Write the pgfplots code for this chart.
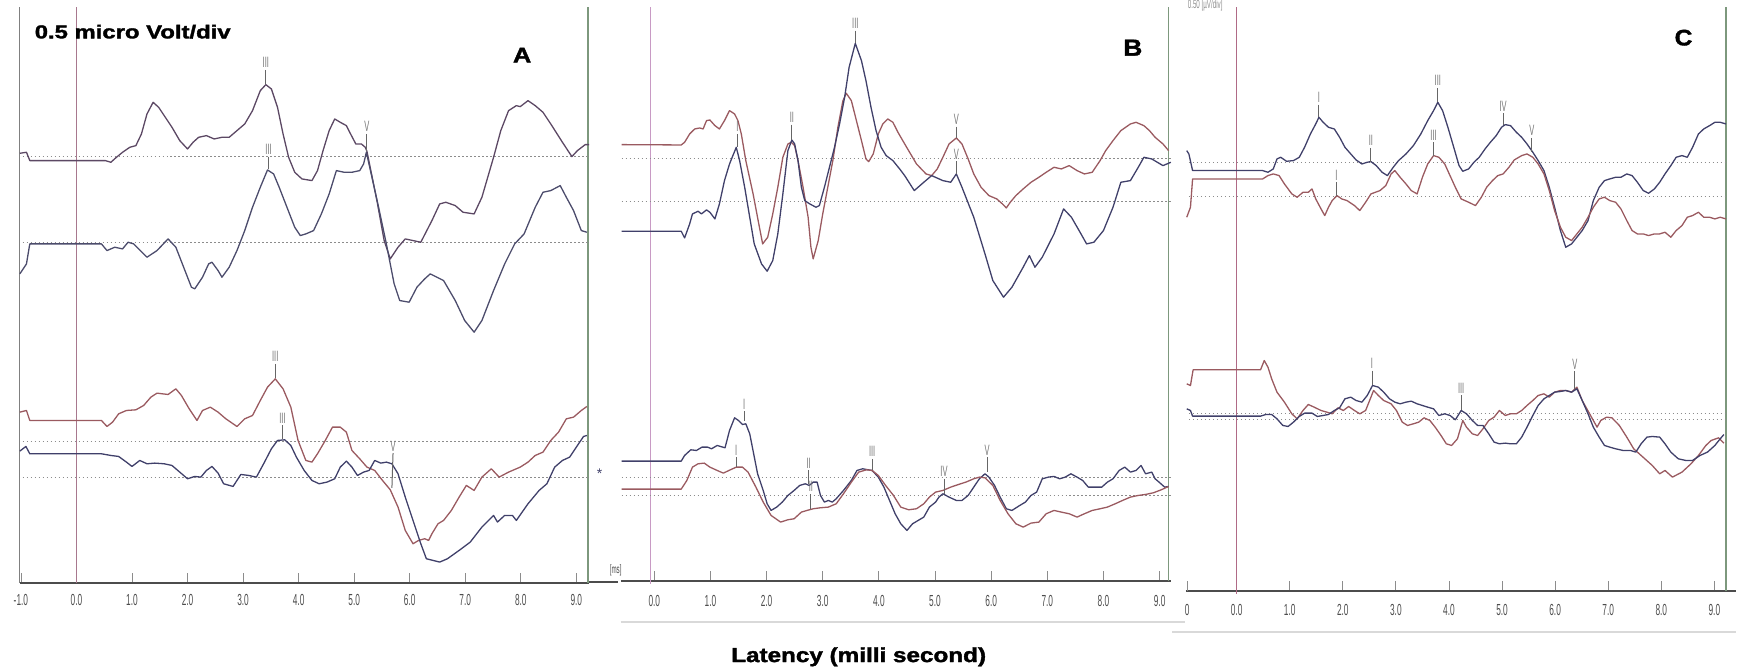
\documentclass[border=0pt]{standalone}
\usepackage{graphicx}
\usepackage{pgfplots}
\pgfplotsset{compat=1.18}
\usepackage{fontspec}
\setmainfont{Liberation Sans}
\newfontfamily\heavy[BoldFeatures={FakeBold=1.6}]{Liberation Sans}
\newfontfamily\tickfont[FakeStretch=0.52]{Liberation Sans}
\newfontfamily\pkfont[FakeStretch=0.5]{Liberation Sans}

\definecolor{trRed}{HTML}{9A5A60}
\definecolor{trBlue}{HTML}{40406A}
\definecolor{trPurA}{HTML}{5C4864}
\definecolor{trPurB}{HTML}{4C4C6C}
\definecolor{zeroA}{HTML}{A8788E}
\definecolor{zeroB}{HTML}{C89AC4}
\definecolor{zeroC}{HTML}{B06A86}
\definecolor{endG}{HTML}{7D987D}
\definecolor{baseG}{HTML}{8C8C8C}

\tikzset{
  base/.style={baseG, dash pattern=on 0.7pt off 1.3pt, line width=0.5pt},
  pk/.style={black!60, line width=0.5pt},
  pklab/.style={font={\pkfont\fontsize{7.5pt}{8pt}\selectfont}, text=black!55, inner sep=0.8pt, anchor=south},
}
\pgfplotsset{
  abr/.style={scale only axis, axis x line*=bottom, axis y line=none,
    axis line style={-, draw=black!70, line width=0.9pt},
    tick align=inside, major tick length=5pt,
    xtick style={draw=black!45, line width=0.4pt},
    xticklabel style={font={\tickfont\fontsize{8pt}{9pt}\selectfont}, text=black!70, anchor=center},
    clip=false,
    every axis plot/.append style={line width=0.65pt, line join=round},
  },
}

\begin{document}
\begin{tikzpicture}
\begin{scope}[x=0.5pt,y=-0.5pt]
\path[use as bounding box] (0,0) rectangle (1737,671);
\end{scope}

% ---------------- Panel A ----------------
\begin{axis}[abr, at={(152.3pt,-147.25pt)}, anchor=center,
  width=284.8pt, height=287.83pt,
  xmin=-1.02, xmax=9.23, ymin=-1747, ymax=-20,
  xtick={-1,0,1,2,3,4,5,6,7,8,9},
  xticklabels={-1.0,0.0,1.0,2.0,3.0,4.0,5.0,6.0,7.0,8.0,9.0},
  xticklabel style={yshift=-8.85pt}]
\addplot[black!50, line width=0.5pt] coordinates {(-1.02,-20) (-1.02,-1747)};
\addplot[zeroA, line width=0.5pt] coordinates {(0,-20) (0,-1747)};
\addplot[endG, line width=0.6pt] coordinates {(9.21,-20) (9.21,-1747)};
\addplot[base] coordinates {(-0.97,-468) (9.23,-468)};
\addplot[base] coordinates {(-0.97,-727) (9.23,-727)};
\addplot[base] coordinates {(-0.97,-1323) (9.23,-1323)};
\addplot[base] coordinates {(-0.97,-1432) (9.23,-1432)};
% upper pair
\addplot[trPurA] coordinates {(-1.02,-458) (-0.90,-455) (-0.84,-480) (0.52,-480) (0.62,-485) (0.72,-470) (0.83,-455) (0.96,-440) (1.07,-435) (1.17,-400) (1.27,-340) (1.38,-305) (1.48,-320) (1.58,-345) (1.72,-380) (1.86,-420) (2.00,-445) (2.10,-425) (2.20,-410) (2.34,-405) (2.48,-415) (2.62,-410) (2.75,-410) (2.89,-390) (3.03,-370) (3.17,-330) (3.31,-270) (3.41,-252) (3.51,-265) (3.62,-320) (3.72,-400) (3.82,-470) (3.93,-515) (4.06,-535) (4.24,-540) (4.34,-510) (4.44,-450) (4.55,-390) (4.65,-355) (4.75,-365) (4.86,-375) (4.92,-395) (5.03,-430) (5.13,-430) (5.20,-440) (5.23,-452) (5.41,-600) (5.54,-720) (5.65,-775) (5.79,-740) (5.92,-715) (6.06,-720) (6.20,-725) (6.40,-660) (6.54,-610) (6.65,-605) (6.82,-615) (6.96,-635) (7.16,-640) (7.30,-590) (7.51,-470) (7.64,-390) (7.78,-330) (7.92,-315) (7.99,-318) (8.13,-300) (8.26,-315) (8.40,-335) (8.54,-370) (8.75,-425) (8.92,-468) (9.02,-450) (9.16,-432) (9.23,-432)};
\addplot[trPurB] coordinates {(-1.02,-820) (-0.90,-790) (-0.84,-730) (0.45,-730) (0.55,-750) (0.69,-740) (0.83,-745) (0.93,-725) (1.03,-730) (1.27,-770) (1.45,-750) (1.65,-715) (1.79,-740) (1.93,-800) (2.07,-860) (2.13,-865) (2.27,-830) (2.38,-790) (2.44,-785) (2.55,-810) (2.62,-830) (2.75,-800) (2.89,-750) (3.03,-690) (3.17,-620) (3.31,-560) (3.44,-508) (3.55,-520) (3.65,-560) (3.79,-620) (3.93,-680) (4.03,-705) (4.13,-700) (4.27,-690) (4.41,-640) (4.55,-580) (4.68,-510) (4.82,-515) (4.96,-515) (5.10,-510) (5.17,-490) (5.22,-455) (5.44,-620) (5.58,-730) (5.72,-850) (5.82,-900) (5.99,-905) (6.13,-860) (6.27,-835) (6.37,-820) (6.61,-840) (6.82,-900) (6.99,-960) (7.16,-995) (7.30,-960) (7.51,-870) (7.71,-790) (7.89,-730) (8.06,-700) (8.26,-620) (8.40,-575) (8.54,-570) (8.71,-555) (8.82,-590) (8.95,-630) (9.09,-690) (9.19,-695)};
% lower pair
\addplot[trRed] coordinates {(-1.02,-1235) (-0.90,-1230) (-0.84,-1260) (0.45,-1260) (0.55,-1278) (0.65,-1265) (0.76,-1240) (0.90,-1230) (1.07,-1228) (1.21,-1215) (1.34,-1190) (1.45,-1178) (1.65,-1182) (1.79,-1165) (1.89,-1185) (2.03,-1225) (2.17,-1260) (2.27,-1230) (2.41,-1220) (2.55,-1235) (2.69,-1255) (2.89,-1278) (3.03,-1255) (3.17,-1245) (3.31,-1200) (3.44,-1160) (3.58,-1135) (3.72,-1165) (3.86,-1220) (3.99,-1320) (4.13,-1380) (4.24,-1385) (4.34,-1360) (4.48,-1320) (4.61,-1280) (4.75,-1280) (4.86,-1295) (4.96,-1350) (5.10,-1375) (5.23,-1400) (5.37,-1410) (5.51,-1440) (5.65,-1468) (5.79,-1520) (5.92,-1590) (6.06,-1630) (6.16,-1620) (6.27,-1615) (6.34,-1620) (6.40,-1600) (6.51,-1570) (6.61,-1560) (6.75,-1530) (6.89,-1490) (7.02,-1455) (7.16,-1470) (7.30,-1430) (7.47,-1405) (7.61,-1430) (7.78,-1415) (7.99,-1400) (8.13,-1385) (8.26,-1365) (8.40,-1355) (8.54,-1320) (8.68,-1295) (8.82,-1255) (8.95,-1250) (9.09,-1230) (9.19,-1218)};
\addplot[trBlue] coordinates {(-1.02,-1352) (-0.91,-1338) (-0.84,-1360) (0.45,-1360) (0.62,-1365) (0.76,-1368) (0.90,-1385) (1.00,-1398) (1.14,-1380) (1.27,-1390) (1.41,-1388) (1.58,-1390) (1.72,-1395) (1.86,-1415) (2.00,-1435) (2.13,-1428) (2.24,-1430) (2.34,-1410) (2.44,-1398) (2.55,-1418) (2.65,-1450) (2.82,-1458) (2.96,-1422) (3.10,-1425) (3.24,-1430) (3.37,-1390) (3.51,-1345) (3.62,-1320) (3.75,-1318) (3.86,-1335) (3.96,-1370) (4.10,-1410) (4.24,-1440) (4.37,-1450) (4.51,-1445) (4.65,-1435) (4.75,-1400) (4.86,-1382) (4.96,-1400) (5.06,-1425) (5.17,-1415) (5.27,-1410) (5.37,-1380) (5.48,-1388) (5.58,-1385) (5.68,-1390) (5.79,-1420) (5.92,-1490) (6.06,-1560) (6.20,-1630) (6.30,-1675) (6.54,-1685) (6.68,-1675) (6.89,-1650) (7.09,-1625) (7.30,-1580) (7.51,-1545) (7.58,-1565) (7.71,-1545) (7.85,-1545) (7.92,-1560) (8.13,-1510) (8.33,-1470) (8.47,-1450) (8.61,-1400) (8.75,-1380) (8.88,-1370) (9.02,-1335) (9.13,-1308) (9.19,-1305)};
% wave markers
\addplot[pk] coordinates {(3.41,-208) (3.41,-250)} node[pklab,pos=0]{III};
\addplot[pk] coordinates {(3.46,-468) (3.46,-505)} node[pklab,pos=0]{III};
\addplot[pk] coordinates {(5.23,-400) (5.23,-450)} node[pklab,pos=0]{V};
\addplot[pk] coordinates {(3.58,-1090) (3.58,-1133)} node[pklab,pos=0]{III};
\addplot[pk] coordinates {(3.71,-1275) (3.71,-1315)} node[pklab,pos=0]{III};
\addplot[pk] coordinates {(5.70,-1358) (5.68,-1462)} node[pklab,pos=0]{V};
\end{axis}

% ---------------- Panel B ----------------
\begin{axis}[abr, at={(448.125pt,-146.835pt)}, anchor=center,
  width=274.95pt, height=287pt,
  xmin=-0.593, xmax=9.196, ymin=-1742, ymax=-20,
  xtick={0,1,2,3,4,5,6,7,8,9},
  xticklabels={0.0,1.0,2.0,3.0,4.0,5.0,6.0,7.0,8.0,9.0},
  xticklabel style={yshift=-10pt}]
\addplot[zeroB, line width=0.6pt] coordinates {(-0.068,-20) (-0.068,-1750)};
\addplot[endG, line width=0.6pt] coordinates {(9.16,-20) (9.16,-1742)};
\addplot[base] coordinates {(-0.58,-473) (9.23,-473)};
\addplot[base] coordinates {(-0.58,-602) (9.23,-602)};
\addplot[base] coordinates {(-0.58,-1430) (9.23,-1430)};
\addplot[base] coordinates {(-0.58,-1485) (9.23,-1485)};
% upper pair
\addplot[trRed] coordinates {(-0.58,-432) (0.48,-433) (0.54,-425) (0.63,-400) (0.72,-385) (0.81,-382) (0.87,-385) (0.93,-360) (0.99,-358) (1.08,-375) (1.16,-385) (1.25,-360) (1.34,-330) (1.43,-340) (1.49,-360) (1.55,-400) (1.63,-480) (1.76,-580) (1.85,-660) (1.93,-730) (2.02,-710) (2.11,-640) (2.20,-560) (2.29,-470) (2.38,-430) (2.44,-425) (2.50,-435) (2.56,-480) (2.65,-560) (2.74,-650) (2.79,-740) (2.83,-775) (2.92,-720) (3.00,-640) (3.09,-560) (3.18,-480) (3.27,-380) (3.36,-300) (3.42,-278) (3.51,-300) (3.60,-360) (3.69,-420) (3.77,-475) (3.82,-483) (3.90,-460) (3.99,-400) (4.07,-370) (4.16,-355) (4.25,-365) (4.34,-395) (4.46,-430) (4.67,-490) (4.84,-520) (4.94,-525) (5.04,-505) (5.14,-470) (5.25,-430) (5.38,-412) (5.48,-430) (5.59,-475) (5.69,-520) (5.82,-560) (5.96,-585) (6.10,-595) (6.20,-610) (6.27,-622) (6.34,-605) (6.44,-585) (6.57,-565) (6.71,-545) (6.85,-530) (6.98,-515) (7.12,-500) (7.25,-505) (7.39,-495) (7.53,-510) (7.66,-520) (7.80,-515) (7.94,-480) (8.04,-450) (8.17,-420) (8.31,-390) (8.48,-370) (8.58,-365) (8.72,-375) (8.82,-390) (8.92,-410) (9.06,-430) (9.16,-450)};
\addplot[trBlue] coordinates {(-0.58,-692) (0.48,-692) (0.54,-712) (0.63,-670) (0.68,-640) (0.78,-632) (0.84,-640) (0.93,-628) (0.99,-635) (1.08,-655) (1.16,-610) (1.25,-540) (1.34,-490) (1.46,-440) (1.52,-480) (1.61,-560) (1.70,-650) (1.78,-730) (1.91,-790) (2.01,-812) (2.11,-780) (2.20,-700) (2.29,-580) (2.38,-450) (2.45,-418) (2.50,-430) (2.56,-480) (2.62,-560) (2.68,-600) (2.77,-610) (2.88,-620) (2.94,-615) (3.03,-560) (3.12,-500) (3.21,-440) (3.30,-370) (3.39,-290) (3.47,-200) (3.58,-128) (3.69,-180) (3.77,-240) (3.86,-320) (3.95,-390) (4.04,-440) (4.13,-465) (4.25,-480) (4.37,-505) (4.46,-525) (4.63,-570) (4.80,-545) (4.94,-525) (5.14,-540) (5.28,-545) (5.38,-520) (5.48,-560) (5.69,-650) (5.89,-760) (6.03,-840) (6.22,-890) (6.37,-860) (6.57,-800) (6.68,-765) (6.78,-800) (6.91,-770) (7.12,-700) (7.29,-625) (7.43,-650) (7.60,-700) (7.70,-730) (7.83,-725) (8.00,-690) (8.17,-620) (8.31,-545) (8.48,-540) (8.62,-500) (8.72,-470) (8.86,-475) (8.96,-485) (9.06,-495) (9.20,-485)};
% lower pair
\addplot[trBlue] coordinates {(-0.58,-1382) (0.48,-1382) (0.54,-1365) (0.65,-1348) (0.75,-1350) (0.85,-1340) (0.95,-1340) (1.02,-1345) (1.12,-1335) (1.26,-1342) (1.34,-1290) (1.43,-1252) (1.50,-1260) (1.57,-1272) (1.63,-1270) (1.70,-1300) (1.77,-1360) (1.84,-1420) (1.94,-1470) (2.01,-1510) (2.08,-1530) (2.18,-1520) (2.28,-1505) (2.38,-1485) (2.49,-1470) (2.59,-1455) (2.69,-1450) (2.76,-1455) (2.83,-1445) (2.90,-1445) (2.96,-1485) (3.03,-1505) (3.10,-1500) (3.17,-1505) (3.24,-1495) (3.37,-1470) (3.51,-1440) (3.61,-1410) (3.71,-1405) (3.81,-1408) (3.88,-1410) (3.99,-1430) (4.09,-1460) (4.19,-1500) (4.29,-1540) (4.39,-1570) (4.50,-1590) (4.60,-1570) (4.70,-1560) (4.80,-1550) (4.90,-1520) (5.01,-1505) (5.07,-1490) (5.14,-1480) (5.25,-1490) (5.38,-1500) (5.48,-1500) (5.59,-1485) (5.69,-1460) (5.79,-1435) (5.89,-1420) (5.96,-1430) (6.06,-1455) (6.16,-1490) (6.27,-1525) (6.37,-1530) (6.51,-1515) (6.61,-1505) (6.71,-1485) (6.81,-1475) (6.91,-1435) (7.02,-1430) (7.12,-1428) (7.22,-1435) (7.32,-1430) (7.42,-1420) (7.53,-1430) (7.63,-1440) (7.73,-1460) (7.87,-1460) (7.97,-1460) (8.07,-1445) (8.17,-1435) (8.28,-1410) (8.38,-1400) (8.48,-1415) (8.58,-1410) (8.67,-1395) (8.75,-1420) (8.86,-1415) (8.92,-1435) (8.99,-1445) (9.09,-1460) (9.16,-1458)};
\addplot[trRed] coordinates {(-0.58,-1466) (0.48,-1466) (0.58,-1440) (0.68,-1400) (0.78,-1390) (0.89,-1388) (0.99,-1400) (1.12,-1410) (1.23,-1418) (1.33,-1410) (1.46,-1400) (1.57,-1400) (1.67,-1415) (1.81,-1460) (1.94,-1505) (2.08,-1545) (2.25,-1565) (2.38,-1558) (2.49,-1555) (2.62,-1535) (2.72,-1530) (2.83,-1525) (2.96,-1522) (3.10,-1520) (3.24,-1510) (3.37,-1480) (3.51,-1445) (3.64,-1415) (3.78,-1408) (3.88,-1410) (3.99,-1425) (4.12,-1455) (4.26,-1485) (4.39,-1520) (4.53,-1528) (4.67,-1525) (4.80,-1510) (4.90,-1490) (5.01,-1475) (5.14,-1470) (5.28,-1460) (5.42,-1452) (5.55,-1445) (5.69,-1435) (5.79,-1430) (5.89,-1432) (6.03,-1455) (6.16,-1500) (6.30,-1540) (6.44,-1570) (6.57,-1580) (6.71,-1568) (6.85,-1565) (6.98,-1540) (7.12,-1530) (7.25,-1535) (7.39,-1540) (7.53,-1550) (7.66,-1540) (7.80,-1530) (7.94,-1525) (8.07,-1520) (8.21,-1510) (8.34,-1500) (8.48,-1490) (8.62,-1485) (8.75,-1482) (8.89,-1477) (9.03,-1468) (9.16,-1458)};
% wave markers
\addplot[pk] coordinates {(1.48,-400) (1.48,-440)} node[pklab,pos=0]{I};
\addplot[pk] coordinates {(2.45,-372) (2.45,-418)} node[pklab,pos=0]{II};
\addplot[pk] coordinates {(3.58,-90) (3.58,-128)} node[pklab,pos=0]{III};
\addplot[pk] coordinates {(5.38,-378) (5.38,-412)} node[pklab,pos=0]{V};
\addplot[pk] coordinates {(5.38,-482) (5.38,-520)} node[pklab,pos=0]{V};
\addplot[pk] coordinates {(1.60,-1232) (1.60,-1262)} node[pklab,pos=0]{I};
\addplot[pk] coordinates {(1.46,-1370) (1.46,-1400)} node[pklab,pos=0]{I};
\addplot[pk] coordinates {(2.75,-1410) (2.75,-1450)} node[pklab,pos=0]{II};
\addplot[pk] coordinates {(2.79,-1480) (2.79,-1525)} node[pklab,pos=0]{II};
\addplot[pk] coordinates {(3.88,-1375) (3.88,-1410)} node[pklab,pos=0]{III};
\addplot[pk] coordinates {(5.16,-1435) (5.16,-1480)} node[pklab,pos=0]{IV};
\addplot[pk] coordinates {(5.93,-1370) (5.93,-1415)} node[pklab,pos=0]{V};
\end{axis}

% ---------------- Panel C ----------------
\begin{axis}[abr, at={(730.875pt,-149.415pt)}, anchor=center,
  width=275.25pt, height=292.17pt,
  xmin=-0.956, xmax=9.41, ymin=-1773, ymax=-20,
  xtick={0,1,2,3,4,5,6,7,8,9},
  xticklabels={0.0,1.0,2.0,3.0,4.0,5.0,6.0,7.0,8.0,9.0},
  extra x ticks={-0.93}, extra x tick labels={0},
  xticklabel style={yshift=-9.5pt}]
\addplot[zeroC, line width=0.6pt] coordinates {(0,-20) (0,-1780)};
\addplot[endG, line width=0.6pt] coordinates {(9.22,-20) (9.22,-1773)};
\addplot[base] coordinates {(-0.90,-487) (9.22,-487)};
\addplot[base] coordinates {(-0.90,-588) (9.22,-588)};
\addplot[base] coordinates {(-0.90,-1240) (9.22,-1240)};
\addplot[base] coordinates {(-0.90,-1258) (9.22,-1258)};
% upper pair
\addplot[trBlue] coordinates {(-0.94,-450) (-0.90,-460) (-0.83,-510) (0.49,-510) (0.59,-515) (0.69,-505) (0.76,-475) (0.83,-470) (0.94,-482) (1.07,-480) (1.18,-470) (1.28,-440) (1.39,-400) (1.49,-370) (1.55,-350) (1.63,-365) (1.73,-380) (1.84,-385) (1.94,-410) (2.04,-440) (2.15,-460) (2.25,-478) (2.36,-490) (2.46,-485) (2.53,-483) (2.63,-495) (2.74,-515) (2.84,-525) (2.95,-500) (3.05,-480) (3.19,-460) (3.33,-435) (3.47,-400) (3.60,-360) (3.71,-330) (3.79,-305) (3.88,-330) (3.98,-380) (4.09,-440) (4.19,-495) (4.26,-512) (4.37,-505) (4.47,-485) (4.57,-470) (4.68,-445) (4.78,-425) (4.89,-405) (4.99,-380) (5.06,-372) (5.16,-375) (5.27,-395) (5.37,-410) (5.47,-430) (5.58,-455) (5.68,-480) (5.79,-510) (5.89,-560) (5.99,-620) (6.10,-690) (6.20,-740) (6.31,-730) (6.41,-710) (6.51,-690) (6.62,-660) (6.72,-600) (6.83,-560) (6.93,-540) (7.03,-535) (7.14,-530) (7.24,-530) (7.35,-520) (7.45,-525) (7.55,-545) (7.66,-570) (7.76,-578) (7.87,-565) (7.97,-545) (8.07,-520) (8.18,-495) (8.28,-470) (8.39,-465) (8.49,-470) (8.59,-440) (8.70,-400) (8.80,-385) (8.91,-375) (9.01,-365) (9.11,-365) (9.22,-370)};
\addplot[trRed] coordinates {(-0.94,-650) (-0.87,-620) (-0.83,-535) (0.49,-535) (0.59,-525) (0.69,-520) (0.80,-525) (0.90,-550) (1.04,-580) (1.14,-590) (1.25,-575) (1.35,-575) (1.42,-565) (1.49,-595) (1.59,-625) (1.66,-645) (1.73,-620) (1.80,-600) (1.89,-585) (1.98,-595) (2.08,-600) (2.22,-615) (2.32,-630) (2.43,-605) (2.53,-580) (2.70,-570) (2.81,-555) (2.91,-520) (2.98,-510) (3.08,-530) (3.19,-550) (3.29,-570) (3.40,-580) (3.50,-530) (3.60,-490) (3.71,-465) (3.81,-470) (3.92,-490) (4.02,-525) (4.12,-560) (4.23,-595) (4.37,-605) (4.50,-615) (4.61,-590) (4.71,-560) (4.82,-540) (4.92,-525) (5.02,-520) (5.13,-500) (5.23,-478) (5.37,-465) (5.47,-460) (5.58,-470) (5.68,-490) (5.79,-520) (5.89,-570) (5.99,-630) (6.10,-680) (6.20,-710) (6.31,-720) (6.41,-700) (6.51,-680) (6.62,-650) (6.72,-620) (6.83,-595) (6.93,-590) (7.03,-600) (7.14,-605) (7.24,-625) (7.35,-660) (7.45,-690) (7.55,-700) (7.66,-700) (7.76,-705) (7.87,-700) (7.97,-700) (8.07,-695) (8.18,-710) (8.28,-690) (8.39,-675) (8.49,-650) (8.59,-645) (8.70,-635) (8.80,-650) (8.91,-650) (9.01,-655) (9.11,-650) (9.22,-655)};
% lower pair
\addplot[trRed] coordinates {(-0.94,-1150) (-0.87,-1155) (-0.82,-1108) (0.45,-1108) (0.52,-1080) (0.59,-1100) (0.66,-1135) (0.76,-1175) (0.90,-1205) (1.04,-1240) (1.14,-1255) (1.25,-1230) (1.35,-1212) (1.46,-1220) (1.59,-1230) (1.70,-1235) (1.80,-1240) (1.91,-1222) (2.01,-1230) (2.11,-1218) (2.22,-1230) (2.32,-1240) (2.43,-1230) (2.53,-1190) (2.58,-1170) (2.67,-1185) (2.77,-1200) (2.91,-1210) (3.01,-1230) (3.12,-1265) (3.22,-1275) (3.33,-1270) (3.43,-1265) (3.53,-1252) (3.64,-1260) (3.74,-1280) (3.85,-1305) (3.95,-1330) (4.05,-1335) (4.16,-1315) (4.26,-1260) (4.33,-1280) (4.44,-1300) (4.54,-1305) (4.64,-1285) (4.75,-1260) (4.85,-1250) (4.95,-1230) (5.06,-1245) (5.16,-1240) (5.27,-1240) (5.37,-1230) (5.47,-1215) (5.58,-1200) (5.68,-1185) (5.79,-1180) (5.89,-1190) (5.99,-1175) (6.10,-1170) (6.20,-1170) (6.31,-1175) (6.41,-1160) (6.51,-1200) (6.65,-1240) (6.79,-1280) (6.86,-1260) (6.97,-1250) (7.07,-1252) (7.21,-1275) (7.35,-1310) (7.48,-1345) (7.55,-1355) (7.69,-1375) (7.83,-1395) (7.97,-1420) (8.07,-1410) (8.21,-1430) (8.39,-1415) (8.56,-1390) (8.70,-1365) (8.84,-1335) (8.94,-1320) (9.08,-1312) (9.18,-1328)};
\addplot[trBlue] coordinates {(-0.94,-1225) (-0.87,-1230) (-0.83,-1247) (0.45,-1247) (0.55,-1242) (0.66,-1242) (0.76,-1255) (0.87,-1275) (0.97,-1278) (1.07,-1265) (1.18,-1248) (1.28,-1238) (1.42,-1238) (1.52,-1248) (1.63,-1245) (1.73,-1242) (1.84,-1230) (1.94,-1222) (2.04,-1195) (2.15,-1190) (2.25,-1200) (2.36,-1205) (2.46,-1185) (2.56,-1155) (2.67,-1160) (2.77,-1175) (2.88,-1195) (2.98,-1205) (3.08,-1210) (3.19,-1205) (3.29,-1202) (3.40,-1210) (3.50,-1215) (3.60,-1220) (3.71,-1225) (3.81,-1245) (3.92,-1240) (4.02,-1245) (4.12,-1258) (4.23,-1230) (4.33,-1240) (4.44,-1260) (4.54,-1275) (4.64,-1275) (4.75,-1300) (4.85,-1325) (4.95,-1330) (5.06,-1328) (5.16,-1330) (5.27,-1330) (5.37,-1310) (5.47,-1280) (5.58,-1245) (5.68,-1215) (5.79,-1195) (5.89,-1185) (5.99,-1175) (6.10,-1173) (6.20,-1170) (6.31,-1175) (6.41,-1165) (6.51,-1200) (6.62,-1240) (6.72,-1280) (6.83,-1310) (6.93,-1335) (7.03,-1340) (7.14,-1345) (7.28,-1350) (7.42,-1350) (7.52,-1355) (7.62,-1330) (7.73,-1310) (7.83,-1308) (7.97,-1310) (8.07,-1330) (8.18,-1355) (8.32,-1375) (8.46,-1380) (8.59,-1380) (8.73,-1365) (8.87,-1355) (9.01,-1335) (9.11,-1315) (9.18,-1302)};
% wave markers
\addplot[pk] coordinates {(1.55,-312) (1.55,-350)} node[pklab,pos=0]{I};
\addplot[pk] coordinates {(2.53,-442) (2.53,-483)} node[pklab,pos=0]{II};
\addplot[pk] coordinates {(3.79,-262) (3.79,-305)} node[pklab,pos=0]{III};
\addplot[pk] coordinates {(5.02,-338) (5.02,-372)} node[pklab,pos=0]{IV};
\addplot[pk] coordinates {(5.56,-412) (5.56,-455)} node[pklab,pos=0]{V};
\addplot[pk] coordinates {(3.71,-425) (3.71,-465)} node[pklab,pos=0]{III};
\addplot[pk] coordinates {(1.88,-545) (1.88,-585)} node[pklab,pos=0]{I};
\addplot[pk] coordinates {(2.55,-1110) (2.55,-1155)} node[pklab,pos=0]{I};
\addplot[pk] coordinates {(4.23,-1185) (4.23,-1230)} node[pklab,pos=0]{III};
\addplot[pk] coordinates {(6.37,-1112) (6.37,-1165)} node[pklab,pos=0]{V};
\end{axis}

\begin{scope}[x=0.5pt,y=-0.5pt]
% frame pieces between the panels
\draw[black!70, line width=0.9pt] (589.4,582) -- (618,582);
\draw[black!15, line width=0.6pt] (621,621.7) -- (1186,621.7);
\draw[black!15, line width=0.6pt] (1173,631.7) -- (1737,631.7);

% texts
\node[anchor=base west, inner sep=0, font=\heavy\bfseries\fontsize{9.4pt}{11pt}\selectfont] at (34.4,37.7) {\scalebox{1.27}[1]{0.5 micro Volt/div}};
\node[anchor=base, inner sep=0, font=\heavy\bfseries\fontsize{10.5pt}{12pt}\selectfont] at (522.4,61.7) {\scalebox{1.2}[1]{A}};
\node[anchor=base, inner sep=0, font=\heavy\bfseries\fontsize{11.6pt}{13pt}\selectfont] at (1133.4,55) {\scalebox{1.14}[1]{B}};
\node[anchor=base, inner sep=0, font=\heavy\bfseries\fontsize{11.2pt}{13pt}\selectfont] at (1684.4,44.7) {\scalebox{1.1}[1]{C}};
\node[anchor=base west, inner sep=0, font=\heavy\bfseries\fontsize{10.2pt}{12pt}\selectfont] at (731.2,661.7) {\scalebox{1.19}[1]{Latency (milli second)}};
\node[inner sep=0, font={\tickfont\fontsize{6pt}{7pt}\selectfont}, text=black!70] at (616,570) {[ms]};
\node[inner sep=0, font=\fontsize{7pt}{8pt}\selectfont, text=trBlue] at (600,473) {*};
\node[anchor=base west, inner sep=0, font={\tickfont\fontsize{6pt}{7pt}\selectfont}, text=black!45] at (1188,8) {0.50 [µV/div]};
\end{scope}
\end{tikzpicture}
\end{document}
